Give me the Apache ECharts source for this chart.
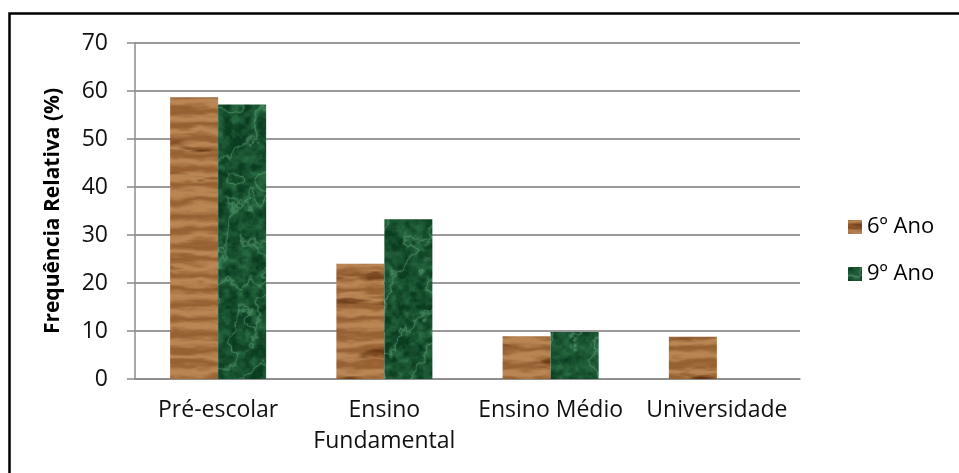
<!DOCTYPE html>
<html>
<head>
<meta charset="utf-8">
<script src="https://cdn.jsdelivr.net/npm/echarts@6/dist/echarts.min.js"></script>
<style>
html,body{margin:0;padding:0;background:#fff;}
#main{width:959px;height:473px;}
</style>
</head>
<body>
<div id="main"></div>
<script>
var categories = ['Pré-escolar', 'Ensino\nFundamental', 'Ensino Médio', 'Universidade'];
var seriesNames = ['6º Ano', '9º Ano'];
var ano6 = [58.7, 24.0, 8.9, 8.8];
var ano9 = [57.2, 33.3, 9.8, 0];
var yMin = 0, yMax = 70, yStep = 10;

var FONT = '"Open Sans", Lato, sans-serif';

// deterministic value noise for the textures
function hash(x, y) {
	var h = Math.sin(x * 127.1 + y * 311.7) * 43758.5453;
	return h - Math.floor(h);
}
function smooth(t) { return t * t * (3 - 2 * t); }
function vnoise(x, y) {
	var xi = Math.floor(x), yi = Math.floor(y);
	var xf = smooth(x - xi), yf = smooth(y - yi);
	var a = hash(xi, yi), b = hash(xi + 1, yi), c = hash(xi, yi + 1), d = hash(xi + 1, yi + 1);
	return a + (b - a) * xf + (c - a) * yf + (a - b - c + d) * xf * yf;
}
function fbm(x, y) {
	var s = 0, amp = 0.5, f = 1;
	for (var i = 0; i < 4; i++) { s += amp * vnoise(x * f, y * f); f *= 2; amp *= 0.5; }
	return s;
}
function mix(a, b, t) {
	return [a[0] + (b[0] - a[0]) * t, a[1] + (b[1] - a[1]) * t, a[2] + (b[2] - a[2]) * t];
}

function makeTexture(w, h, fn) {
	var c = document.createElement('canvas');
	c.width = w; c.height = h;
	var cxt = c.getContext('2d');
	var img = cxt.createImageData(w, h);
	for (var y = 0; y < h; y++) {
		for (var x = 0; x < w; x++) {
			var col = fn(x, y);
			var k = (y * w + x) * 4;
			img.data[k] = col[0]; img.data[k + 1] = col[1]; img.data[k + 2] = col[2]; img.data[k + 3] = 255;
		}
	}
	cxt.putImageData(img, 0, 0);
	return c;
}

// textures are as wide as the page so no seam falls inside a bar
var wood = makeTexture(960, 480, function(x, y) {
	var g = fbm(x * 0.04, y * 0.15);
	var band = 0.5 + 0.5 * Math.sin((y + g * 14) * 0.42);
	var col = mix([150, 96, 50], [186, 134, 84], band);
	var dk = fbm(3 + x * 0.02, y * 0.09);
	if (dk > 0.6) col = mix(col, [96, 50, 14], Math.min(1, (dk - 0.6) * 5));
	return col;
});
var marble = makeTexture(960, 480, function(x, y) {
	var n = fbm(x * 0.05, y * 0.05);
	var v = 1 - Math.abs(Math.sin(x * 0.06 + y * 0.05 + n * 7));
	v = Math.pow(v, 5);
	var m = fbm(10 + x * 0.15, y * 0.15);
	var col = mix([10, 60, 32], [45, 115, 72], Math.max(0, m - 0.25) * 1.6);
	return mix(col, [95, 165, 120], v * 0.6);
});

var myChart = echarts.init(document.getElementById('main'));
var option = {
	animation: false,
	backgroundColor: '#fff',
	textStyle: { fontFamily: FONT },
	graphic: [{
		type: 'rect',
		shape: { x: 9.5, y: 13.5, width: 970, height: 480 },
		style: { fill: 'none', stroke: '#000', lineWidth: 2.5 },
		z: 100
	}],
	grid: { left: 135, right: 159, top: 43, bottom: 94, containLabel: false },
	legend: {
		orient: 'vertical',
		left: 843,
		top: 207,
		itemWidth: 14,
		itemHeight: 14,
		itemGap: 17,
		icon: 'rect',
		textStyle: { fontFamily: FONT, fontSize: 22, color: '#000', lineHeight: 30, padding: [0, 0, 0, 0] },
		data: seriesNames
	},
	xAxis: {
		type: 'category',
		data: categories,
		axisLine: { show: true, lineStyle: { color: '#8c8c8c', width: 1.5 } },
		axisTick: { show: false },
		axisLabel: { fontFamily: FONT, fontSize: 23, color: '#111', margin: 16, lineHeight: 31, interval: 0 }
	},
	yAxis: {
		type: 'value',
		min: yMin, max: yMax, interval: yStep,
		name: 'Frequência Relativa (%)',
		nameLocation: 'middle',
		nameGap: 71,
		nameTextStyle: { fontFamily: FONT, fontSize: 21, fontWeight: 'bold', color: '#000' },
		axisLine: { show: true, lineStyle: { color: '#8c8c8c', width: 1.5 } },
		axisTick: { show: true, length: 8, lineStyle: { color: '#8c8c8c', width: 1.5 } },
		axisLabel: { fontFamily: FONT, fontSize: 23, color: '#111', margin: 27 },
		splitLine: { show: true, lineStyle: { color: '#9a9a9a', width: 2 } }
	},
	series: [{
		name: seriesNames[0],
		type: 'bar',
		data: ano6,
		barWidth: 48,
		barGap: '0%',
		itemStyle: { color: { image: wood, repeat: 'repeat' } }
	}, {
		name: seriesNames[1],
		type: 'bar',
		data: ano9,
		barWidth: 48,
		barGap: '0%',
		itemStyle: { color: { image: marble, repeat: 'repeat' } }
	}]
};
myChart.setOption(option);
</script>
</body>
</html>
